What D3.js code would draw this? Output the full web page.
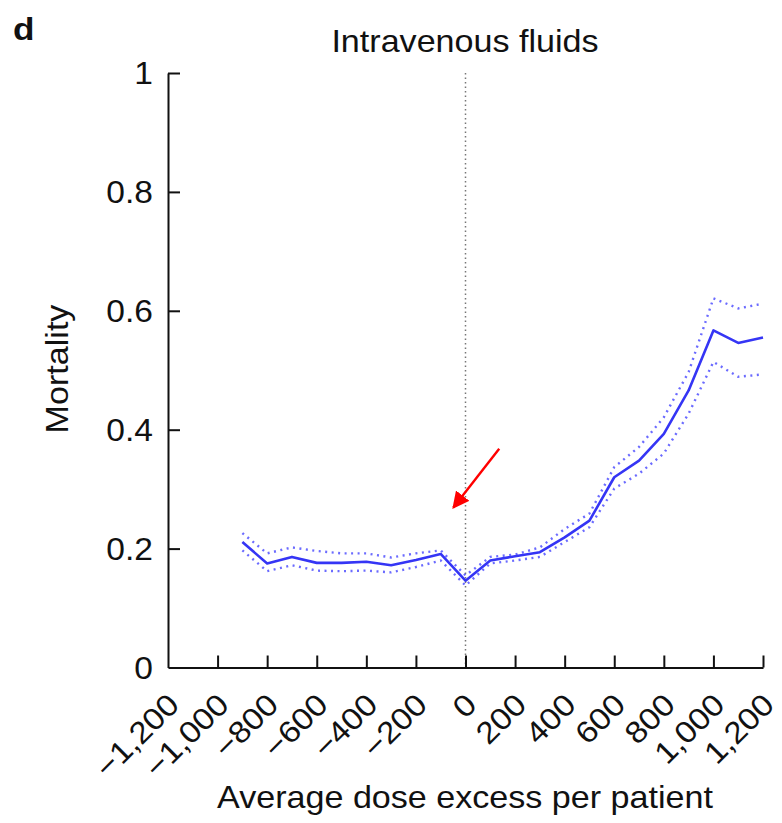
<!DOCTYPE html>
<html>
<head>
<meta charset="utf-8">
<script src="https://cdn.jsdelivr.net/npm/d3@7"></script>
<style>
  body { margin: 0; background: #fff; }
  text { font-family: "Liberation Sans", Arial, sans-serif; fill: #111; }
</style>
</head>
<body>
<svg id="chart" width="782" height="823"></svg>
<script>
// dose excess (x) and mortality
var dose = [-900, -800, -700, -600, -500, -400, -300, -200, -100, 0, 100, 200, 300, 400, 500, 600, 700, 800, 900, 1000, 1100, 1200];
var mortality = [0.211, 0.175, 0.186, 0.176, 0.176, 0.178, 0.172, 0.181, 0.191, 0.146, 0.180, 0.187, 0.194, 0.219, 0.247, 0.320, 0.348, 0.393, 0.466, 0.567, 0.546, 0.555];
var upper = [0.226, 0.192, 0.202, 0.196, 0.192, 0.192, 0.185, 0.192, 0.197, 0.155, 0.186, 0.190, 0.202, 0.233, 0.259, 0.337, 0.371, 0.421, 0.497, 0.621, 0.604, 0.612];
var lower = [0.197, 0.162, 0.172, 0.163, 0.162, 0.163, 0.160, 0.169, 0.180, 0.138, 0.175, 0.180, 0.186, 0.211, 0.236, 0.301, 0.326, 0.360, 0.427, 0.514, 0.489, 0.493];

var xTicks = [-1200, -1000, -800, -600, -400, -200, 0, 200, 400, 600, 800, 1000, 1200];
var yTicks = [0, 0.2, 0.4, 0.6, 0.8, 1];

// arrow annotation, in data units: [from, to]
var arrow = [[136, 0.368], [-49, 0.269]];

var svg = d3.select("#chart");
var stretch = 1.1;

var x = d3.scaleLinear().domain([-1200, 1200]).range([168, 763]);
var y = d3.scaleLinear().domain([0, 1]).range([667.5, 73]);

var fmtX = d3.format(",");
var fmtY = d3.format("~g");

// panel letter + title
svg.append("text")
    .attr("transform", "translate(13,40) scale(" + stretch + ",1)")
    .style("font-size", "32px")
    .style("font-weight", "bold")
    .text("d");

svg.append("text")
    .attr("transform", "translate(465,52) scale(" + stretch + ",1)")
    .attr("text-anchor", "middle")
    .style("font-size", "31px")
    .text("Intravenous fluids");

// dotted zero line
svg.append("line")
    .attr("x1", x(0)).attr("x2", x(0))
    .attr("y1", y(1)).attr("y2", y(0))
    .attr("stroke", "#777")
    .attr("stroke-width", 1.5)
    .attr("stroke-dasharray", "1.5,3");

// axes
var xAxis = d3.axisBottom(x).tickValues(xTicks).tickSizeInner(-12).tickSizeOuter(0).tickFormat("");
var yAxis = d3.axisLeft(y).tickValues(yTicks.filter(function(d) { return d > 0; })).tickSizeInner(-12).tickSizeOuter(0).tickFormat("");

var gx = svg.append("g").attr("transform", "translate(0," + y(0) + ")").call(xAxis);
var gy = svg.append("g").attr("transform", "translate(" + x(-1200) + ",0)").call(yAxis);
[gx, gy].forEach(function(g) {
    g.selectAll("path, line").attr("stroke", "#111").attr("stroke-width", 2);
});
gx.selectAll(".tick").filter(function(d) { return d === -1200; }).remove();

// tick labels
svg.selectAll(".ylab")
    .data(yTicks)
    .enter()
    .append("text")
        .attr("class", "ylab")
        .attr("transform", function(d) { return "translate(153," + (y(d) + 11) + ") scale(" + stretch + ",1)"; })
        .attr("text-anchor", "end")
        .style("font-size", "30.5px")
        .text(fmtY);

svg.selectAll(".xlab")
    .data(xTicks)
    .enter()
    .append("text")
        .attr("class", "xlab")
        .attr("transform", function(d) { return "translate(" + (x(d) + 13) + "," + (y(0) + 39) + ") rotate(-45) scale(" + stretch + ",1)"; })
        .attr("text-anchor", "end")
        .style("font-size", "30.5px")
        .text(fmtX);

// axis titles
svg.append("text")
    .attr("transform", "translate(68,369) rotate(-90) scale(" + stretch + ",1)")
    .attr("text-anchor", "middle")
    .style("font-size", "31px")
    .text("Mortality");

svg.append("text")
    .attr("transform", "translate(465,808) scale(" + stretch + ",1)")
    .attr("text-anchor", "middle")
    .style("font-size", "31px")
    .text("Average dose excess per patient");

// series
var pts = function(vals) { return dose.map(function(d, i) { return [d, vals[i]]; }); };
var line = d3.line()
    .x(function(d) { return x(d[0]); })
    .y(function(d) { return y(d[1]); });

[upper, lower].forEach(function(band) {
    svg.append("path")
        .datum(pts(band))
        .attr("d", line)
        .attr("fill", "none")
        .attr("stroke", "#3a3aff")
        .attr("stroke-opacity", 0.75)
        .attr("stroke-width", 2.4)
        .attr("stroke-dasharray", "2,4.5");
});

svg.append("path")
    .datum(pts(mortality))
    .attr("d", line)
    .attr("fill", "none")
    .attr("stroke", "#3535f5")
    .attr("stroke-width", 2.6)
    .attr("stroke-linejoin", "round");

// red arrow
svg.append("defs").append("marker")
    .attr("id", "head")
    .attr("viewBox", "0 0 10 10")
    .attr("refX", 9).attr("refY", 5)
    .attr("markerWidth", 7).attr("markerHeight", 7)
    .attr("markerUnits", "strokeWidth")
    .attr("orient", "auto")
    .append("path")
        .attr("d", "M0,0 L10,5 L0,10 Z")
        .attr("fill", "#ff0000");

svg.append("line")
    .attr("x1", x(arrow[0][0])).attr("y1", y(arrow[0][1]))
    .attr("x2", x(arrow[1][0])).attr("y2", y(arrow[1][1]))
    .attr("stroke", "#ff0000")
    .attr("stroke-width", 2.4)
    .attr("marker-end", "url(#head)");
</script>
</body>
</html>
